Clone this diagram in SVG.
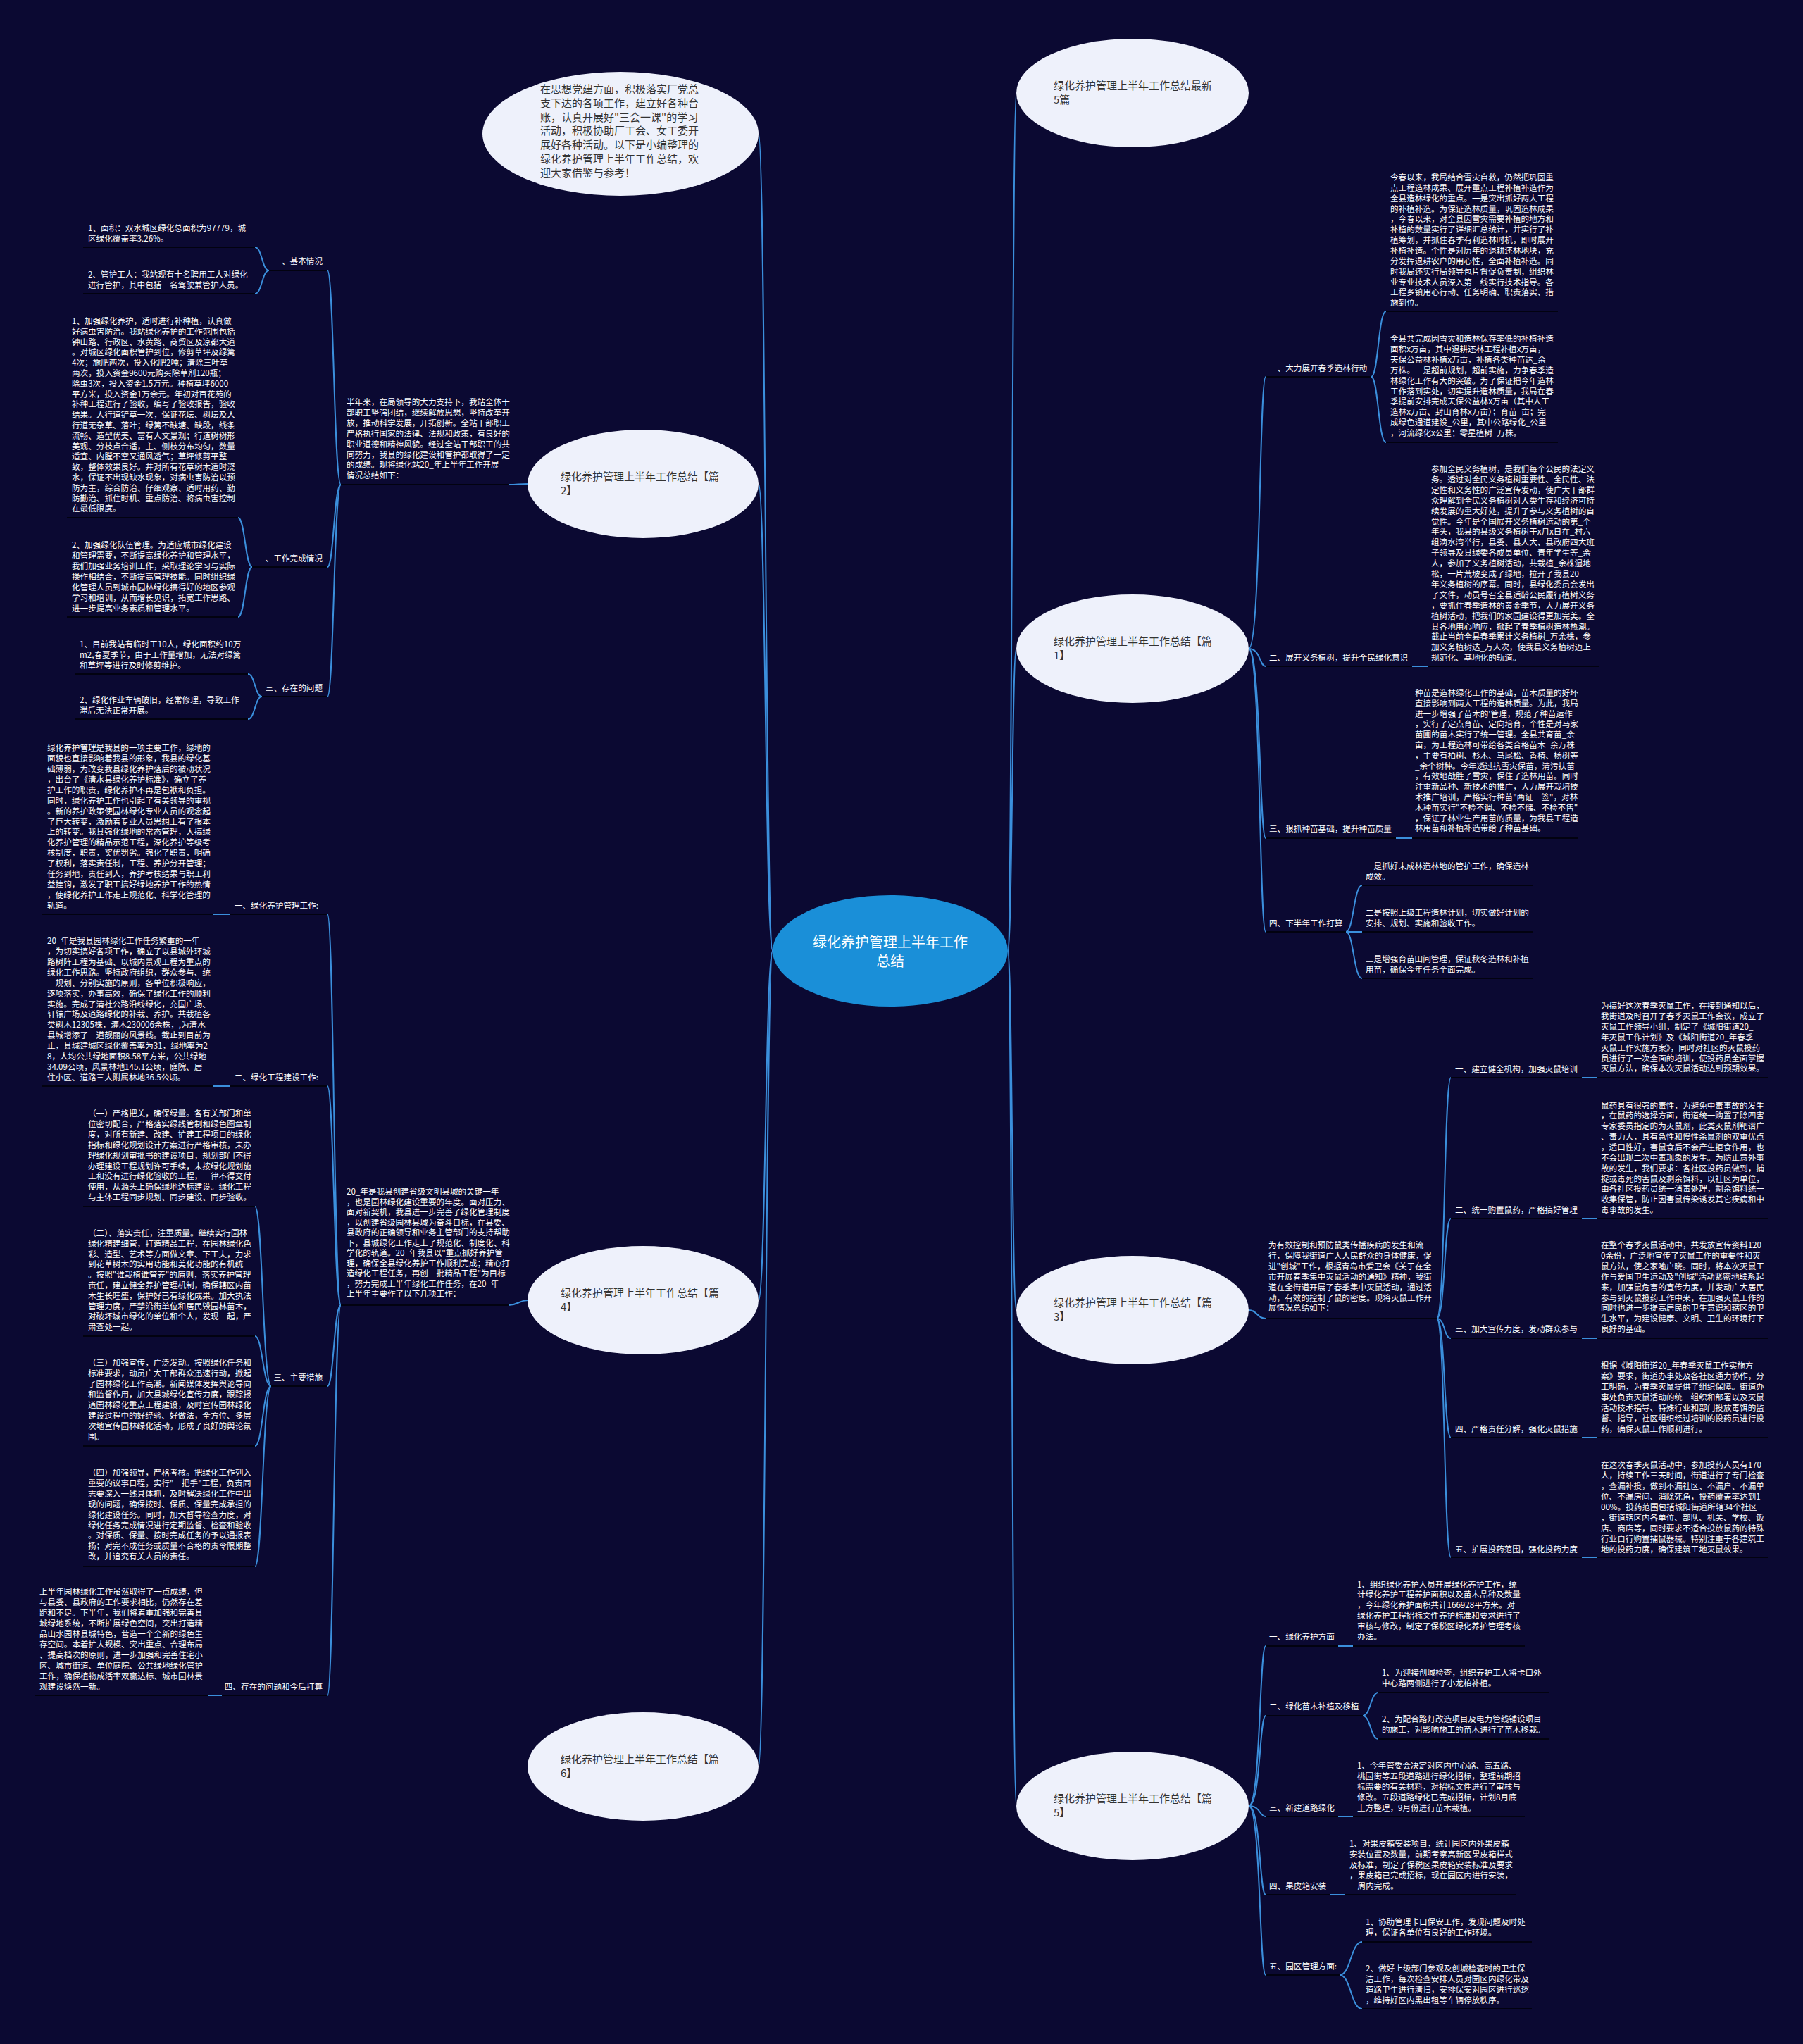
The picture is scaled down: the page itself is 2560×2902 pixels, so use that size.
<svg xmlns="http://www.w3.org/2000/svg" width="2560" height="2902" viewBox="0 0 2560 2902">
<style>
.t{font-family:"Noto Sans CJK SC","Noto Sans",sans-serif;font-size:11.6px;fill:#ffffff}
.r{text-anchor:end}
.e{fill:#eef1fb}
.et{font-family:"Noto Sans CJK SC","Noto Sans",sans-serif;font-size:15px;fill:#333333}
.ct{font-family:"Noto Sans CJK SC","Noto Sans",sans-serif;font-size:20px;fill:#ffffff;text-anchor:middle}
.u{stroke:#020210;stroke-width:2}
.c{fill:none;stroke:#3b8fdc;stroke-width:2}
</style>
<rect width="2560" height="2902" fill="#0b0932"/>

<g id="underlines">
<line class="u" x1="118" y1="351" x2="362" y2="351"/>
<line class="u" x1="118" y1="417" x2="362" y2="417"/>
<line class="u" x1="382" y1="384" x2="465" y2="384"/>
<line class="u" x1="95" y1="735" x2="338" y2="735"/>
<line class="u" x1="95" y1="876" x2="338" y2="876"/>
<line class="u" x1="358" y1="805" x2="465" y2="805"/>
<line class="u" x1="107" y1="957" x2="352" y2="957"/>
<line class="u" x1="107" y1="1021" x2="352" y2="1021"/>
<line class="u" x1="372" y1="989" x2="465" y2="989"/>
<line class="u" x1="484" y1="688" x2="722" y2="688"/>
<line class="u" x1="60" y1="1298" x2="303" y2="1298"/>
<line class="u" x1="327" y1="1298" x2="465" y2="1298"/>
<line class="u" x1="60" y1="1542" x2="303" y2="1542"/>
<line class="u" x1="327" y1="1542" x2="465" y2="1542"/>
<line class="u" x1="118" y1="1713" x2="362" y2="1713"/>
<line class="u" x1="118" y1="1897" x2="362" y2="1897"/>
<line class="u" x1="118" y1="2053" x2="362" y2="2053"/>
<line class="u" x1="118" y1="2224" x2="362" y2="2224"/>
<line class="u" x1="385" y1="1968" x2="465" y2="1968"/>
<line class="u" x1="50" y1="2407" x2="296" y2="2407"/>
<line class="u" x1="315" y1="2407" x2="465" y2="2407"/>
<line class="u" x1="484" y1="1853" x2="722" y2="1853"/>
<line class="u" x1="1797" y1="535" x2="1947" y2="535"/>
<line class="u" x1="1968" y1="442" x2="2212" y2="442"/>
<line class="u" x1="1968" y1="628" x2="2212" y2="628"/>
<line class="u" x1="1797" y1="946" x2="2005" y2="946"/>
<line class="u" x1="2028" y1="946" x2="2270" y2="946"/>
<line class="u" x1="1797" y1="1190" x2="1982" y2="1190"/>
<line class="u" x1="2005" y1="1190" x2="2240" y2="1190"/>
<line class="u" x1="1797" y1="1323" x2="1911" y2="1323"/>
<line class="u" x1="1934" y1="1257" x2="2176" y2="1257"/>
<line class="u" x1="1934" y1="1323" x2="2176" y2="1323"/>
<line class="u" x1="1934" y1="1389" x2="2176" y2="1389"/>
<line class="u" x1="1797" y1="1872" x2="2040" y2="1872"/>
<line class="u" x1="2060" y1="1530" x2="2246" y2="1530"/>
<line class="u" x1="2060" y1="1730" x2="2246" y2="1730"/>
<line class="u" x1="2060" y1="1900" x2="2246" y2="1900"/>
<line class="u" x1="2060" y1="2041" x2="2246" y2="2041"/>
<line class="u" x1="2060" y1="2211" x2="2246" y2="2211"/>
<line class="u" x1="2268" y1="1530" x2="2510" y2="1530"/>
<line class="u" x1="2268" y1="1730" x2="2510" y2="1730"/>
<line class="u" x1="2268" y1="1900" x2="2510" y2="1900"/>
<line class="u" x1="2268" y1="2041" x2="2510" y2="2041"/>
<line class="u" x1="2268" y1="2211" x2="2510" y2="2211"/>
<line class="u" x1="1797" y1="2337" x2="1900" y2="2337"/>
<line class="u" x1="1797" y1="2436" x2="1935" y2="2436"/>
<line class="u" x1="1797" y1="2579" x2="1900" y2="2579"/>
<line class="u" x1="1797" y1="2690" x2="1889" y2="2690"/>
<line class="u" x1="1797" y1="2804" x2="1902" y2="2804"/>
<line class="u" x1="1921" y1="2337" x2="2165" y2="2337"/>
<line class="u" x1="1957" y1="2403" x2="2199" y2="2403"/>
<line class="u" x1="1957" y1="2469" x2="2199" y2="2469"/>
<line class="u" x1="1921" y1="2579" x2="2165" y2="2579"/>
<line class="u" x1="1910" y1="2690" x2="2153" y2="2690"/>
<line class="u" x1="1934" y1="2757" x2="2175" y2="2757"/>
<line class="u" x1="1934" y1="2852" x2="2175" y2="2852"/>
</g>

<g id="connectors">
<path class="c" d="M1097,1350 C1087,1350 1087,190 1077,190"/>
<path class="c" d="M1097,1350 C1087,1350 1087,687 1077,687"/>
<path class="c" d="M1097,1350 C1087,1350 1087,1846 1077,1846"/>
<path class="c" d="M1097,1350 C1087,1350 1087,2508 1077,2508"/>
<path class="c" d="M1431,1350 C1437,1350 1437,132 1443,132"/>
<path class="c" d="M1431,1350 C1437,1350 1437,921 1443,921"/>
<path class="c" d="M1431,1350 C1437,1350 1437,1860 1443,1860"/>
<path class="c" d="M1431,1350 C1437,1350 1437,2564 1443,2564"/>
<path class="c" d="M750,687 C736,687 736,688 722,688"/>
<path class="c" d="M484,688 C474,688 474,384 465,384"/>
<path class="c" d="M484,688 C474,688 474,805 465,805"/>
<path class="c" d="M484,688 C474,688 474,989 465,989"/>
<path class="c" d="M382,384 C372,384 372,351 362,351"/>
<path class="c" d="M382,384 C372,384 372,417 362,417"/>
<path class="c" d="M358,805 C348,805 348,735 338,735"/>
<path class="c" d="M358,805 C348,805 348,876 338,876"/>
<path class="c" d="M372,989 C362,989 362,957 352,957"/>
<path class="c" d="M372,989 C362,989 362,1021 352,1021"/>
<path class="c" d="M750,1846 C736,1846 736,1853 722,1853"/>
<path class="c" d="M484,1853 C474,1853 474,1298 465,1298"/>
<path class="c" d="M484,1853 C474,1853 474,1542 465,1542"/>
<path class="c" d="M484,1853 C474,1853 474,1968 465,1968"/>
<path class="c" d="M484,1853 C474,1853 474,2407 465,2407"/>
<path class="c" d="M327,1298 L303,1298"/>
<path class="c" d="M327,1542 L303,1542"/>
<path class="c" d="M385,1968 C373,1968 373,1713 362,1713"/>
<path class="c" d="M385,1968 C373,1968 373,1897 362,1897"/>
<path class="c" d="M385,1968 C373,1968 373,2053 362,2053"/>
<path class="c" d="M385,1968 C373,1968 373,2224 362,2224"/>
<path class="c" d="M315,2407 L296,2407"/>
<path class="c" d="M1773,921 C1790,921 1788,535 1797,535"/>
<path class="c" d="M1773,921 C1790,921 1788,946 1797,946"/>
<path class="c" d="M1773,921 C1790,921 1788,1190 1797,1190"/>
<path class="c" d="M1773,921 C1790,921 1788,1323 1797,1323"/>
<path class="c" d="M1947,535 C1957,535 1957,442 1968,442"/>
<path class="c" d="M1947,535 C1957,535 1957,628 1968,628"/>
<path class="c" d="M2005,946 L2028,946"/>
<path class="c" d="M1982,1190 L2005,1190"/>
<path class="c" d="M1911,1323 C1922,1323 1922,1257 1934,1257"/>
<path class="c" d="M1911,1323 L1934,1323"/>
<path class="c" d="M1911,1323 C1922,1323 1922,1389 1934,1389"/>
<path class="c" d="M1773,1860 C1785,1860 1785,1872 1797,1872"/>
<path class="c" d="M2040,1872 C2052,1872 2050,1530 2060,1530"/>
<path class="c" d="M2040,1872 C2052,1872 2050,1730 2060,1730"/>
<path class="c" d="M2040,1872 C2052,1872 2050,1900 2060,1900"/>
<path class="c" d="M2040,1872 C2052,1872 2050,2041 2060,2041"/>
<path class="c" d="M2040,1872 C2052,1872 2050,2211 2060,2211"/>
<path class="c" d="M2246,1530 L2268,1530"/>
<path class="c" d="M2246,1730 L2268,1730"/>
<path class="c" d="M2246,1900 L2268,1900"/>
<path class="c" d="M2246,2041 L2268,2041"/>
<path class="c" d="M2246,2211 L2268,2211"/>
<path class="c" d="M1773,2564 C1790,2564 1788,2337 1797,2337"/>
<path class="c" d="M1773,2564 C1790,2564 1788,2436 1797,2436"/>
<path class="c" d="M1773,2564 C1790,2564 1788,2579 1797,2579"/>
<path class="c" d="M1773,2564 C1790,2564 1788,2690 1797,2690"/>
<path class="c" d="M1773,2564 C1790,2564 1788,2804 1797,2804"/>
<path class="c" d="M1900,2337 L1921,2337"/>
<path class="c" d="M1935,2436 C1946,2436 1946,2403 1957,2403"/>
<path class="c" d="M1935,2436 C1946,2436 1946,2469 1957,2469"/>
<path class="c" d="M1900,2579 L1921,2579"/>
<path class="c" d="M1889,2690 L1910,2690"/>
<path class="c" d="M1902,2804 C1918,2804 1918,2757 1934,2757"/>
<path class="c" d="M1902,2804 C1918,2804 1918,2852 1934,2852"/>
</g>

<g id="center">
<ellipse cx="1264" cy="1350" rx="167" ry="79" fill="#1a8fd8"/>
<text class="ct"><tspan x="1264" y="1345">绿化养护管理上半年工作</tspan><tspan x="1264" y="1372">总结</tspan></text>
</g>

<g id="intro">
<ellipse class="e" cx="881" cy="190" rx="196" ry="88"/>
<text class="et"><tspan x="767" y="132">在思想党建方面，积极落实厂党总</tspan><tspan x="767" y="151.8">支下达的各项工作，建立好各种台</tspan><tspan x="767" y="171.6">账，认真开展好"三会一课"的学习</tspan><tspan x="767" y="191.4">活动，积极协助厂工会、女工委开</tspan><tspan x="767" y="211.2">展好各种活动。以下是小编整理的</tspan><tspan x="767" y="231">绿化养护管理上半年工作总结，欢</tspan><tspan x="767" y="250.8">迎大家借鉴与参考！</tspan></text>
</g>

<g id="p-latest">
<ellipse class="e" cx="1608" cy="132" rx="165" ry="77"/>
<text class="et"><tspan x="1496" y="127">绿化养护管理上半年工作总结最新</tspan><tspan x="1496" y="147">5篇</tspan></text>
</g>

<g id="p2">
<ellipse class="e" cx="913" cy="687" rx="164" ry="77"/>
<text class="et"><tspan x="796" y="682">绿化养护管理上半年工作总结【篇</tspan><tspan x="796" y="702">2】</tspan></text>
</g>

<g id="p1">
<ellipse class="e" cx="1608" cy="921" rx="165" ry="77"/>
<text class="et"><tspan x="1496" y="916">绿化养护管理上半年工作总结【篇</tspan><tspan x="1496" y="936">1】</tspan></text>
</g>

<g id="p4">
<ellipse class="e" cx="913" cy="1846" rx="164" ry="77"/>
<text class="et"><tspan x="796" y="1841">绿化养护管理上半年工作总结【篇</tspan><tspan x="796" y="1861">4】</tspan></text>
</g>

<g id="p3">
<ellipse class="e" cx="1608" cy="1860" rx="165" ry="77"/>
<text class="et"><tspan x="1496" y="1855">绿化养护管理上半年工作总结【篇</tspan><tspan x="1496" y="1875">3】</tspan></text>
</g>

<g id="p6">
<ellipse class="e" cx="913" cy="2508" rx="164" ry="77"/>
<text class="et"><tspan x="796" y="2503">绿化养护管理上半年工作总结【篇</tspan><tspan x="796" y="2523">6】</tspan></text>
</g>

<g id="p5">
<ellipse class="e" cx="1608" cy="2564" rx="165" ry="77"/>
<text class="et"><tspan x="1496" y="2559">绿化养护管理上半年工作总结【篇</tspan><tspan x="1496" y="2579">5】</tspan></text>
</g>

<g id="p2-intro">
<text class="t"><tspan x="492" y="575">半年来，在局领导的大力支持下，我站全体干</tspan><tspan x="492" y="589.9">部职工坚强团结，继续解放思想，坚持改革开</tspan><tspan x="492" y="604.8">放，推动科学发展，开拓创新。全站干部职工</tspan><tspan x="492" y="619.7">严格执行国家的法律、法规和政策，有良好的</tspan><tspan x="492" y="634.6">职业道德和精神风貌。经过全站干部职工的共</tspan><tspan x="492" y="649.5">同努力，我县的绿化建设和管护都取得了一定</tspan><tspan x="492" y="664.4">的成绩。现将绿化站20_年上半年工作开展</tspan><tspan x="492" y="679.3">情况总结如下：</tspan></text>
</g>

<g id="p2-s1">
<text class="t r" x="458" y="375">一、基本情况</text>
</g>
<g id="p2-s1-a">
<text class="t"><tspan x="125" y="328">1、面积：双水城区绿化总面积为97779，城</tspan><tspan x="125" y="343">区绿化覆盖率3.26%。</tspan></text>
</g>
<g id="p2-s1-b">
<text class="t"><tspan x="125" y="394">2、管护工人：我站现有十名聘用工人对绿化</tspan><tspan x="125" y="409">进行管护，其中包括一名驾驶兼管护人员。</tspan></text>
</g>

<g id="p2-s2">
<text class="t r" x="458" y="797">二、工作完成情况</text>
</g>
<g id="p2-s2-a">
<text class="t"><tspan x="102" y="460">1、加强绿化养护，适时进行补种植，认真做</tspan><tspan x="102" y="474.8">好病虫害防治。我站绿化养护的工作范围包括</tspan><tspan x="102" y="489.6">钟山路、行政区、水黄路、商贸区及凉都大道</tspan><tspan x="102" y="504.4">。对城区绿化面积管护到位，修剪草坪及绿篱</tspan><tspan x="102" y="519.2">4次；施肥两次，投入化肥2吨；清除三叶草</tspan><tspan x="102" y="534">两次，投入资金9600元购买除草剂120瓶；</tspan><tspan x="102" y="548.8">除虫3次，投入资金1.5万元。种植草坪6000</tspan><tspan x="102" y="563.6">平方米，投入资金1万余元。年初对百花苑的</tspan><tspan x="102" y="578.4">补种工程进行了验收，编写了验收报告，验收</tspan><tspan x="102" y="593.2">结果。人行道铲草一次，保证花坛、树坛及人</tspan><tspan x="102" y="608">行道无杂草、落叶；绿篱不缺塘、缺段，线条</tspan><tspan x="102" y="622.8">流畅、造型优美、富有人文景观；行道树树形</tspan><tspan x="102" y="637.6">美观、分枝点合适，主、侧枝分布均匀，数量</tspan><tspan x="102" y="652.4">适宜、内膛不空又通风透气；草坪修剪平整一</tspan><tspan x="102" y="667.2">致，整体效果良好。并对所有花草树木适时浇</tspan><tspan x="102" y="682">水，保证不出现缺水现象，对病虫害防治以预</tspan><tspan x="102" y="696.8">防为主，综合防治、仔细观察、适时用药、勤</tspan><tspan x="102" y="711.6">防勤治、抓住时机、重点防治、将病虫害控制</tspan><tspan x="102" y="726.4">在最低限度。</tspan></text>
</g>
<g id="p2-s2-b">
<text class="t"><tspan x="102" y="778">2、加强绿化队伍管理。为适应城市绿化建设</tspan><tspan x="102" y="793">和管理需要，不断提高绿化养护和管理水平，</tspan><tspan x="102" y="808">我们加强业务培训工作，采取理论学习与实际</tspan><tspan x="102" y="823">操作相结合，不断提高管理技能。同时组织绿</tspan><tspan x="102" y="838">化管理人员到城市园林绿化搞得好的地区参观</tspan><tspan x="102" y="853">学习和培训，从而增长见识，拓宽工作思路、</tspan><tspan x="102" y="868">进一步提高业务素质和管理水平。</tspan></text>
</g>

<g id="p2-s3">
<text class="t r" x="458" y="981">三、存在的问题</text>
</g>
<g id="p2-s3-a">
<text class="t"><tspan x="113" y="919">1、目前我站有临时工10人，绿化面积约10万</tspan><tspan x="113" y="934">m2,春夏季节，由于工作量增加，无法对绿篱</tspan><tspan x="113" y="949">和草坪等进行及时修剪维护。</tspan></text>
</g>
<g id="p2-s3-b">
<text class="t"><tspan x="113" y="998">2、绿化作业车辆破旧，经常修理，导致工作</tspan><tspan x="113" y="1013">滞后无法正常开展。</tspan></text>
</g>

<g id="p4-intro">
<text class="t"><tspan x="492" y="1696">20_年是我县创建省级文明县城的关键一年</tspan><tspan x="492" y="1710.5">，也是园林绿化建设重要的年度。面对压力、</tspan><tspan x="492" y="1725">面对新契机，我县进一步完善了绿化管理制度</tspan><tspan x="492" y="1739.5">，以创建省级园林县城为奋斗目标，在县委、</tspan><tspan x="492" y="1754">县政府的正确领导和业务主管部门的支持帮助</tspan><tspan x="492" y="1768.5">下，县城绿化工作走上了规范化、制度化、科</tspan><tspan x="492" y="1783">学化的轨道。20_年我县以"重点抓好养护管</tspan><tspan x="492" y="1797.5">理，确保全县绿化养护工作顺利完成；精心打</tspan><tspan x="492" y="1812">造绿化工程任务，再创一批精品工程"为目标</tspan><tspan x="492" y="1826.5">，努力完成上半年绿化工作任务，在20_年</tspan><tspan x="492" y="1841">上半年主要作了以下几项工作：</tspan></text>
</g>

<g id="p4-s1">
<text class="t r" x="452" y="1290">一、绿化养护管理工作:</text>
</g>
<g id="p4-s1-a">
<text class="t"><tspan x="67" y="1066">绿化养护管理是我县的一项主要工作，绿地的</tspan><tspan x="67" y="1080.9">面貌也直接影响着我县的形象，我县的绿化基</tspan><tspan x="67" y="1095.9">础薄弱，为改变我县绿化养护落后的被动状况</tspan><tspan x="67" y="1110.8">，出台了《清水县绿化养护标准》，确立了养</tspan><tspan x="67" y="1125.7">护工作的职责，绿化养护不再是包袱和负担。</tspan><tspan x="67" y="1140.7">同时，绿化养护工作也引起了有关领导的重视</tspan><tspan x="67" y="1155.6">。新的养护政策使园林绿化专业人员的观念起</tspan><tspan x="67" y="1170.5">了巨大转变，激励着专业人员思想上有了根本</tspan><tspan x="67" y="1185.4">上的转变。我县强化绿地的常态管理，大搞绿</tspan><tspan x="67" y="1200.4">化养护管理的精品示范工程，深化养护等级考</tspan><tspan x="67" y="1215.3">核制度，职责，奖优罚劣。强化了职责，明确</tspan><tspan x="67" y="1230.2">了权利，落实责任制，工程、养护分开管理；</tspan><tspan x="67" y="1245.2">任务到地，责任到人，养护考核结果与职工利</tspan><tspan x="67" y="1260.1">益挂钩，激发了职工搞好绿地养护工作的热情</tspan><tspan x="67" y="1275">，使绿化养护工作走上规范化、科学化管理的</tspan><tspan x="67" y="1290">轨道。</tspan></text>
</g>

<g id="p4-s2">
<text class="t r" x="452" y="1534">二、绿化工程建设工作:</text>
</g>
<g id="p4-s2-a">
<text class="t"><tspan x="67" y="1340">20_年是我县园林绿化工作任务繁重的一年</tspan><tspan x="67" y="1354.9">，为切实搞好各项工作，确立了以县城外环城</tspan><tspan x="67" y="1369.8">路树阵工程为基础、以城内景观工程为重点的</tspan><tspan x="67" y="1384.8">绿化工作思路。坚持政府组织，群众参与、统</tspan><tspan x="67" y="1399.7">一规划、分别实施的原则，各单位积极响应，</tspan><tspan x="67" y="1414.6">逐项落实，办事高效，确保了绿化工作的顺利</tspan><tspan x="67" y="1429.5">实施。完成了清社公路沿线绿化，充国广场、</tspan><tspan x="67" y="1444.4">轩辕广场及道路绿化的补栽、养护。共栽植各</tspan><tspan x="67" y="1459.4">类树木12305株，灌木230006余株，,为清水</tspan><tspan x="67" y="1474.3">县城增添了一道靓丽的风景线。截止到目前为</tspan><tspan x="67" y="1489.2">止，县城建城区绿化覆盖率为31，绿地率为2</tspan><tspan x="67" y="1504.1">8，人均公共绿地面积8.58平方米，公共绿地</tspan><tspan x="67" y="1519">34.09公顷，风景林地145.1公顷，庭院、居</tspan><tspan x="67" y="1534">住小区、道路三大附属林地36.5公顷。</tspan></text>
</g>

<g id="p4-s3">
<text class="t r" x="458" y="1960">三、主要措施</text>
</g>
<g id="p4-s3-a">
<text class="t"><tspan x="125" y="1585">（一）严格把关，确保绿量。各有关部门和单</tspan><tspan x="125" y="1599.9">位密切配合，严格落实绿线管制和绿色图章制</tspan><tspan x="125" y="1614.8">度，对所有新建、改建、扩建工程项目的绿化</tspan><tspan x="125" y="1629.7">指标和绿化规划设计方案进行严格审核，未办</tspan><tspan x="125" y="1644.6">理绿化规划审批书的建设项目，规划部门不得</tspan><tspan x="125" y="1659.5">办理建设工程规划许可手续，未按绿化规划施</tspan><tspan x="125" y="1674.4">工和没有进行绿化验收的工程，一律不得交付</tspan><tspan x="125" y="1689.3">使用，从源头上确保绿地达标建设。绿化工程</tspan><tspan x="125" y="1704.2">与主体工程同步规划、同步建设、同步验收。</tspan></text>
</g>
<g id="p4-s3-b">
<text class="t"><tspan x="125" y="1755">（二）、落实责任，注重质量。继续实行园林</tspan><tspan x="125" y="1769.8">绿化精建细管，打造精品工程，在园林绿化色</tspan><tspan x="125" y="1784.6">彩、造型、艺术等方面做文章、下工夫，力求</tspan><tspan x="125" y="1799.4">到花草树木的实用功能和美化功能的有机统一</tspan><tspan x="125" y="1814.2">。按照"谁栽植谁管养"的原则，落实养护管理</tspan><tspan x="125" y="1829">责任，建立健全养护管理机制，确保辖区内苗</tspan><tspan x="125" y="1843.8">木生长旺盛，保护好已有绿化成果。加大执法</tspan><tspan x="125" y="1858.6">管理力度，严禁沿街单位和居民毁园林苗木，</tspan><tspan x="125" y="1873.4">对破坏城市绿化的单位和个人，发现一起，严</tspan><tspan x="125" y="1888.2">肃查处一起。</tspan></text>
</g>
<g id="p4-s3-c">
<text class="t"><tspan x="125" y="1939">（三）加强宣传，广泛发动。按照绿化任务和</tspan><tspan x="125" y="1954">标准要求，动员广大干部群众迅速行动，掀起</tspan><tspan x="125" y="1969">了园林绿化工作高潮。新闻媒体发挥舆论导向</tspan><tspan x="125" y="1984">和监督作用，加大县城绿化宣传力度，跟踪报</tspan><tspan x="125" y="1999">道园林绿化重点工程建设，及时宣传园林绿化</tspan><tspan x="125" y="2014">建设过程中的好经验、好做法，全方位、多层</tspan><tspan x="125" y="2029">次地宣传园林绿化活动，形成了良好的舆论氛</tspan><tspan x="125" y="2044">围。</tspan></text>
</g>
<g id="p4-s3-d">
<text class="t"><tspan x="125" y="2095">（四）加强领导，严格考核。把绿化工作列入</tspan><tspan x="125" y="2109.9">重要的议事日程，实行"一把手"工程，负责同</tspan><tspan x="125" y="2124.8">志要深入一线具体抓，及时解决绿化工作中出</tspan><tspan x="125" y="2139.7">现的问题，确保按时、保质、保量完成承担的</tspan><tspan x="125" y="2154.6">绿化建设任务。同时，加大督导检查力度，对</tspan><tspan x="125" y="2169.5">绿化任务完成情况进行定期监督、检查和验收</tspan><tspan x="125" y="2184.4">。对保质、保量、按时完成任务的予以通报表</tspan><tspan x="125" y="2199.3">扬；对完不成任务或质量不合格的责令限期整</tspan><tspan x="125" y="2214.2">改，并追究有关人员的责任。</tspan></text>
</g>

<g id="p4-s4">
<text class="t r" x="458" y="2399">四、存在的问题和今后打算</text>
</g>
<g id="p4-s4-a">
<text class="t"><tspan x="56" y="2264">上半年园林绿化工作虽然取得了一点成绩，但</tspan><tspan x="56" y="2279">与县委、县政府的工作要求相比，仍然存在差</tspan><tspan x="56" y="2294">距和不足。下半年，我们将着重加强和完善县</tspan><tspan x="56" y="2309">城绿地系统，不断扩展绿色空间，突出打造精</tspan><tspan x="56" y="2324">品山水园林县城特色，营造一个全新的绿色生</tspan><tspan x="56" y="2339">存空间。本着扩大规模、突出重点、合理布局</tspan><tspan x="56" y="2354">、提高档次的原则，进一步加强和完善住宅小</tspan><tspan x="56" y="2369">区、城市街道、单位庭院、公共绿地绿化管护</tspan><tspan x="56" y="2384">工作，确保植物成活率双赢达标、城市园林景</tspan><tspan x="56" y="2399">观建设焕然一新。</tspan></text>
</g>

<g id="p1-s1">
<text class="t" x="1802" y="527">一、大力展开春季造林行动</text>
</g>
<g id="p1-s1-a">
<text class="t"><tspan x="1974" y="256">今春以来，我局结合雪灾自救，仍然把巩固重</tspan><tspan x="1974" y="270.9">点工程造林成果、展开重点工程补植补造作为</tspan><tspan x="1974" y="285.7">全县造林绿化的重点。一是突出抓好两大工程</tspan><tspan x="1974" y="300.6">的补植补造。为保证造林质量，巩固造林成果</tspan><tspan x="1974" y="315.4">，今春以来，对全县因雪灾需要补植的地方和</tspan><tspan x="1974" y="330.3">补植的数量实行了详细汇总统计，并实行了补</tspan><tspan x="1974" y="345.1">植筹划，并抓住春季有利造林时机，即时展开</tspan><tspan x="1974" y="360">补植补造。个性是对历年的退耕还林地块，充</tspan><tspan x="1974" y="374.8">分发挥退耕农户的用心性，全面补植补造。同</tspan><tspan x="1974" y="389.7">时我局还实行局领导包片督促负责制，组织林</tspan><tspan x="1974" y="404.5">业专业技术人员深入第一线实行技术指导。各</tspan><tspan x="1974" y="419.4">工程乡镇用心行动、任务明确、职责落实、措</tspan><tspan x="1974" y="434.2">施到位。</tspan></text>
</g>
<g id="p1-s1-b">
<text class="t"><tspan x="1974" y="485">全县共完成因雪灾和造林保存率低的补植补造</tspan><tspan x="1974" y="499.9">面积x万亩，其中退耕还林工程补植x万亩，</tspan><tspan x="1974" y="514.8">天保公益林补植x万亩，补植各类种苗达_余</tspan><tspan x="1974" y="529.7">万株。二是超前规划，超前实施，力争春季造</tspan><tspan x="1974" y="544.6">林绿化工作有大的突破。为了保证把今年造林</tspan><tspan x="1974" y="559.5">工作落到实处，切实提升造林质量，我局在春</tspan><tspan x="1974" y="574.4">季提前安排完成天保公益林x万亩（其中人工</tspan><tspan x="1974" y="589.3">造林x万亩、封山育林x万亩）；育苗_亩；完</tspan><tspan x="1974" y="604.2">成绿色通道建设_公里，其中公路绿化_公里</tspan><tspan x="1974" y="619.1">，河流绿化x公里；零星植树_万株。</tspan></text>
</g>

<g id="p1-s2">
<text class="t" x="1802" y="938">二、展开义务植树，提升全民绿化意识</text>
</g>
<g id="p1-s2-a">
<text class="t"><tspan x="2032" y="670">参加全民义务植树，是我们每个公民的法定义</tspan><tspan x="2032" y="684.9">务。透过对全民义务植树重要性、全民性、法</tspan><tspan x="2032" y="699.8">定性和义务性的广泛宣传发动，使广大干部群</tspan><tspan x="2032" y="714.7">众理解到全民义务植树对人类生存和经济可持</tspan><tspan x="2032" y="729.6">续发展的重大好处，提升了参与义务植树的自</tspan><tspan x="2032" y="744.5">觉性。今年是全国展开义务植树运动的第_个</tspan><tspan x="2032" y="759.4">年头，我县的县级义务植树于x月x日在_村六</tspan><tspan x="2032" y="774.3">组滴水湾举行，县委、县人大、县政府四大班</tspan><tspan x="2032" y="789.2">子领导及县绿委各成员单位、青年学生等_余</tspan><tspan x="2032" y="804.1">人，参加了义务植树活动，共栽植_余株湿地</tspan><tspan x="2032" y="819">松，一片荒坡变成了绿地，拉开了我县20_</tspan><tspan x="2032" y="833.9">年义务植树的序幕。同时，县绿化委员会发出</tspan><tspan x="2032" y="848.8">了文件，动员号召全县适龄公民履行植树义务</tspan><tspan x="2032" y="863.7">，要抓住春季造林的黄金季节，大力展开义务</tspan><tspan x="2032" y="878.6">植树活动，把我们的家园建设得更加完美。全</tspan><tspan x="2032" y="893.5">县各地用心响应，掀起了春季植树造林热潮。</tspan><tspan x="2032" y="908.4">截止当前全县春季累计义务植树_万余株，参</tspan><tspan x="2032" y="923.3">加义务植树达_万人次，使我县义务植树迈上</tspan><tspan x="2032" y="938.2">规范化、基地化的轨道。</tspan></text>
</g>

<g id="p1-s3">
<text class="t" x="1802" y="1181">三、狠抓种苗基础，提升种苗质量</text>
</g>
<g id="p1-s3-a">
<text class="t"><tspan x="2009" y="988">种苗是造林绿化工作的基础，苗木质量的好坏</tspan><tspan x="2009" y="1002.8">直接影响到两大工程的造林质量。为此，我局</tspan><tspan x="2009" y="1017.6">进一步增强了苗木的'管理，规范了种苗运作</tspan><tspan x="2009" y="1032.4">，实行了定点育苗、定向培育，个性是对马家</tspan><tspan x="2009" y="1047.2">苗圃的苗木实行了统一管理。全县共育苗_余</tspan><tspan x="2009" y="1062">亩，为工程造林可带给各类合格苗木_余万株</tspan><tspan x="2009" y="1076.8">，主要有柏树、杉木、马尾松、香椿、杨树等</tspan><tspan x="2009" y="1091.6">_余个树种。今年透过抗雪灾保苗，清污扶苗</tspan><tspan x="2009" y="1106.4">，有效地战胜了雪灾，保住了造林用苗。同时</tspan><tspan x="2009" y="1121.2">注重新品种、新技术的推广，大力展开栽培技</tspan><tspan x="2009" y="1136">术推广培训，严格实行种苗"两证一签"，对林</tspan><tspan x="2009" y="1150.8">木种苗实行"不检不调、不检不储、不检不售"</tspan><tspan x="2009" y="1165.6">，保证了林业生产用苗的质量，为我县工程造</tspan><tspan x="2009" y="1180.4">林用苗和补植补造带给了种苗基础。</tspan></text>
</g>

<g id="p1-s4">
<text class="t" x="1802" y="1315">四、下半年工作打算</text>
</g>
<g id="p1-s4-a">
<text class="t"><tspan x="1939" y="1234">一是抓好未成林造林地的管护工作，确保造林</tspan><tspan x="1939" y="1249">成效。</tspan></text>
</g>
<g id="p1-s4-b">
<text class="t"><tspan x="1939" y="1300">二是按照上级工程造林计划，切实做好计划的</tspan><tspan x="1939" y="1315">安排、规划、实施和验收工作。</tspan></text>
</g>
<g id="p1-s4-c">
<text class="t"><tspan x="1939" y="1366">三是增强育苗田间管理，保证秋冬造林和补植</tspan><tspan x="1939" y="1381">用苗，确保今年任务全面完成。</tspan></text>
</g>

<g id="p3-intro">
<text class="t"><tspan x="1801" y="1772">为有效控制和预防鼠类传播疾病的发生和流</tspan><tspan x="1801" y="1786.9">行，保障我街道广大人民群众的身体健康，促</tspan><tspan x="1801" y="1801.8">进"创城"工作，根据青岛市爱卫会《关于在全</tspan><tspan x="1801" y="1816.7">市开展春季集中灭鼠活动的通知》精神，我街</tspan><tspan x="1801" y="1831.6">道在全街道开展了春季集中灭鼠活动，通过活</tspan><tspan x="1801" y="1846.5">动，有效的控制了鼠的密度。现将灭鼠工作开</tspan><tspan x="1801" y="1861.4">展情况总结如下：</tspan></text>
</g>

<g id="p3-s1">
<text class="t" x="2066" y="1522">一、建立健全机构，加强灭鼠培训</text>
</g>
<g id="p3-s1-a">
<text class="t"><tspan x="2273" y="1432">为搞好这次春季灭鼠工作，在接到通知以后，</tspan><tspan x="2273" y="1446.9">我街道及时召开了春季灭鼠工作会议，成立了</tspan><tspan x="2273" y="1461.8">灭鼠工作领导小组，制定了《城阳街道20_</tspan><tspan x="2273" y="1476.7">年灭鼠工作计划》及《城阳街道20_年春季</tspan><tspan x="2273" y="1491.6">灭鼠工作实施方案》，同时对社区的灭鼠投药</tspan><tspan x="2273" y="1506.5">员进行了一次全面的培训，使投药员全面掌握</tspan><tspan x="2273" y="1521.4">灭鼠方法，确保本次灭鼠活动达到预期效果。</tspan></text>
</g>

<g id="p3-s2">
<text class="t" x="2066" y="1722">二、统一购置鼠药，严格搞好管理</text>
</g>
<g id="p3-s2-a">
<text class="t"><tspan x="2273" y="1573.5">鼠药具有很强的毒性，为避免中毒事故的发生</tspan><tspan x="2273" y="1588.4">，在鼠药的选择方面，街道统一购置了除四害</tspan><tspan x="2273" y="1603.2">专家委员指定的为灭鼠剂，此类灭鼠剂靶谱广</tspan><tspan x="2273" y="1618.1">、毒力大，具有急性和慢性杀鼠剂的双重优点</tspan><tspan x="2273" y="1632.9">，适口性好，害鼠食后不会产生拒食作用，也</tspan><tspan x="2273" y="1647.8">不会出现二次中毒现象的发生。为防止意外事</tspan><tspan x="2273" y="1662.6">故的发生，我们要求：各社区投药员做到，捕</tspan><tspan x="2273" y="1677.5">捉或毒死的害鼠及剩余饵料，以社区为单位，</tspan><tspan x="2273" y="1692.3">由各社区投药员统一消毒处理，剩余饵料统一</tspan><tspan x="2273" y="1707.2">收集保管，防止因害鼠传染诱发其它疾病和中</tspan><tspan x="2273" y="1722">毒事故的发生。</tspan></text>
</g>

<g id="p3-s3">
<text class="t" x="2066" y="1891">三、加大宣传力度，发动群众参与</text>
</g>
<g id="p3-s3-a">
<text class="t"><tspan x="2273" y="1772">在整个春季灭鼠活动中，共发放宣传资料120</tspan><tspan x="2273" y="1786.9">0余份，广泛地宣传了灭鼠工作的重要性和灭</tspan><tspan x="2273" y="1801.8">鼠方法，使之家喻户晓。同时，将本次灭鼠工</tspan><tspan x="2273" y="1816.7">作与爱国卫生运动及"创城"活动紧密地联系起</tspan><tspan x="2273" y="1831.6">来，加强鼠危害的宣传力度，并发动广大居民</tspan><tspan x="2273" y="1846.5">参与到灭鼠投药工作中来，在加强灭鼠工作的</tspan><tspan x="2273" y="1861.4">同时也进一步提高居民的卫生意识和辖区的卫</tspan><tspan x="2273" y="1876.3">生水平，为建设健康、文明、卫生的环境打下</tspan><tspan x="2273" y="1891.2">良好的基础。</tspan></text>
</g>

<g id="p3-s4">
<text class="t" x="2066" y="2033">四、严格责任分解，强化灭鼠措施</text>
</g>
<g id="p3-s4-a">
<text class="t"><tspan x="2273" y="1942.5">根据《城阳街道20_年春季灭鼠工作实施方</tspan><tspan x="2273" y="1957.6">案》要求，街道办事处及各社区通力协作，分</tspan><tspan x="2273" y="1972.7">工明确，为春季灭鼠提供了组织保障。街道办</tspan><tspan x="2273" y="1987.8">事处负责灭鼠活动的统一组织和部署以及灭鼠</tspan><tspan x="2273" y="2002.9">活动技术指导、特殊行业和部门投放毒饵的监</tspan><tspan x="2273" y="2018">督、指导，社区组织经过培训的投药员进行投</tspan><tspan x="2273" y="2033.1">药，确保灭鼠工作顺利进行。</tspan></text>
</g>

<g id="p3-s5">
<text class="t" x="2066" y="2204">五、扩展投药范围，强化投药力度</text>
</g>
<g id="p3-s5-a">
<text class="t"><tspan x="2273" y="2084">在这次春季灭鼠活动中，参加投药人员有170</tspan><tspan x="2273" y="2099">人，持续工作三天时间，街道进行了专门检查</tspan><tspan x="2273" y="2114">，查漏补投，做到不漏社区、不漏户、不漏单</tspan><tspan x="2273" y="2129">位、不漏房间、消除死角，投药覆盖率达到1</tspan><tspan x="2273" y="2144">00%。投药范围包括城阳街道所辖34个社区</tspan><tspan x="2273" y="2159">，街道辖区内各单位、部队、机关、学校、饭</tspan><tspan x="2273" y="2174">店、商店等，同时要求不适合投放鼠药的特殊</tspan><tspan x="2273" y="2189">行业自行购置捕鼠器械。特别注重于各建筑工</tspan><tspan x="2273" y="2204">地的投药力度，确保建筑工地灭鼠效果。</tspan></text>
</g>

<g id="p5-s1">
<text class="t" x="1802" y="2328">一、绿化养护方面</text>
</g>
<g id="p5-s1-a">
<text class="t"><tspan x="1927" y="2253.5">1、组织绿化养护人员开展绿化养护工作，统</tspan><tspan x="1927" y="2268.4">计绿化养护工程养护面积以及苗木品种及数量</tspan><tspan x="1927" y="2283.3">，今年绿化养护面积共计166928平方米。对</tspan><tspan x="1927" y="2298.2">绿化养护工程招标文件养护标准和要求进行了</tspan><tspan x="1927" y="2313.1">审核与修改，制定了保税区绿化养护管理考核</tspan><tspan x="1927" y="2328">办法。</tspan></text>
</g>

<g id="p5-s2">
<text class="t" x="1802" y="2427">二、绿化苗木补植及移植</text>
</g>
<g id="p5-s2-a">
<text class="t"><tspan x="1962" y="2379">1、为迎接创城检查，组织养护工人将卡口外</tspan><tspan x="1962" y="2394">中心路两侧进行了小龙柏补植。</tspan></text>
</g>
<g id="p5-s2-b">
<text class="t"><tspan x="1962" y="2445">2、为配合路灯改造项目及电力管线铺设项目</tspan><tspan x="1962" y="2460">的施工，对影响施工的苗木进行了苗木移栽。</tspan></text>
</g>

<g id="p5-s3">
<text class="t" x="1802" y="2571">三、新建道路绿化</text>
</g>
<g id="p5-s3-a">
<text class="t"><tspan x="1927" y="2511">1、今年管委会决定对区内中心路、高五路、</tspan><tspan x="1927" y="2526">桃园街等五段道路进行绿化招标，整理前期招</tspan><tspan x="1927" y="2541">标需要的有关材料，对招标文件进行了审核与</tspan><tspan x="1927" y="2556">修改。五段道路绿化已完成招标，计划8月底</tspan><tspan x="1927" y="2571">土方整理，9月份进行苗木栽植。</tspan></text>
</g>

<g id="p5-s4">
<text class="t" x="1802" y="2682">四、果皮箱安装</text>
</g>
<g id="p5-s4-a">
<text class="t"><tspan x="1916" y="2622">1、对果皮箱安装项目，统计园区内外果皮箱</tspan><tspan x="1916" y="2637">安装位置及数量，前期考察高新区果皮箱样式</tspan><tspan x="1916" y="2652">及标准，制定了保税区果皮箱安装标准及要求</tspan><tspan x="1916" y="2667">，果皮箱已完成招标，现在园区内进行安装，</tspan><tspan x="1916" y="2682">一周内完成。</tspan></text>
</g>

<g id="p5-s5">
<text class="t" x="1802" y="2796">五、园区管理方面:</text>
</g>
<g id="p5-s5-a">
<text class="t"><tspan x="1939" y="2733">1、协助管理卡口保安工作，发现问题及时处</tspan><tspan x="1939" y="2748">理，保证各单位有良好的工作环境。</tspan></text>
</g>
<g id="p5-s5-b">
<text class="t"><tspan x="1939" y="2799">2、做好上级部门参观及创城检查时的卫生保</tspan><tspan x="1939" y="2814">洁工作，每次检查安排人员对园区内绿化带及</tspan><tspan x="1939" y="2829">道路卫生进行清扫，安排保安对园区进行巡逻</tspan><tspan x="1939" y="2844">，维持好区内黑出租等车辆停放秩序。</tspan></text>
</g>
</svg>
